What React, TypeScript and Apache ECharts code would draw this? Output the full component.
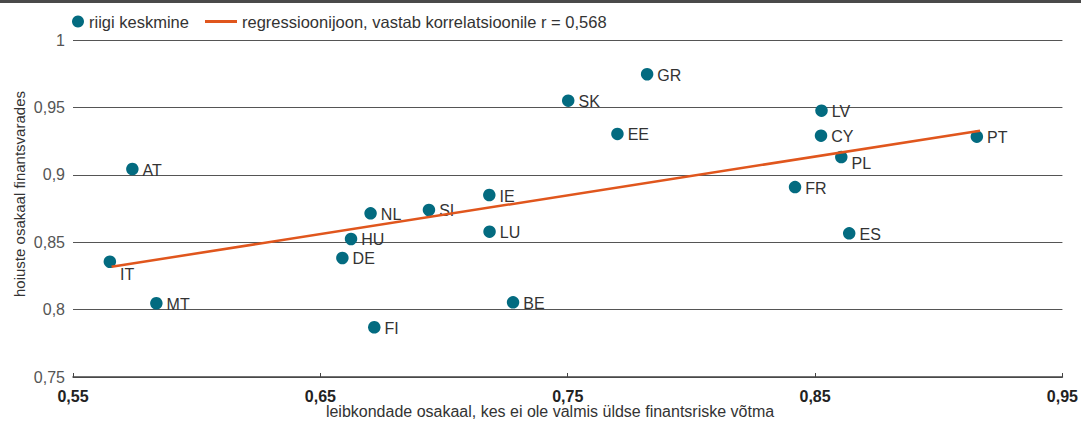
import React, { useEffect, useRef } from "react";
import * as echarts from "echarts";

const countries = ["IT", "AT", "MT", "DE", "HU", "NL", "FI", "SI", "IE", "LU", "BE", "SK", "EE", "GR", "FR", "LV", "CY", "PL", "ES", "PT"];
const xValues = [0.5649, 0.574, 0.5837, 0.6589, 0.6624, 0.6703, 0.6718, 0.6939, 0.7183, 0.7184, 0.7279, 0.7502, 0.7701, 0.7821, 0.8419, 0.8526, 0.8524, 0.8606, 0.8638, 0.9154];
const yValues = [0.8355, 0.9043, 0.8047, 0.8383, 0.8524, 0.8714, 0.7869, 0.8739, 0.885, 0.8578, 0.8054, 0.955, 0.9303, 0.9746, 0.8909, 0.9476, 0.929, 0.9132, 0.8566, 0.9283];
const regressionX = [0.5656, 0.9167];
const regressionY = [0.8318, 0.9327];

const scatterName = "riigi keskmine";
const lineName = "regressioonijoon, vastab korrelatsioonile r = 0,568";
const xAxisTitle = "leibkondade osakaal, kes ei ole valmis üldse finantsriske võtma";
const yAxisTitle = "hoiuste osakaal finantsvarades";

const FONT = "Liberation Sans, Arial, Helvetica, sans-serif";
const fmt = (v: number) => String(+Number(v).toFixed(2)).replace(".", ",");

export default function App() {
  const ref = useRef<HTMLDivElement>(null);
  useEffect(() => {
    document.body.style.margin = "0";
    const chart = echarts.init(ref.current!, null, { renderer: "svg" });
    const labelOffsets: Record<string, number[]> = { IT: [0, 13], PL: [0, 6] };
    chart.setOption({
      animation: false,
      backgroundColor: "#ffffff",
      textStyle: { fontFamily: FONT },
      graphic: [
        { type: "rect", left: 0, top: 0, shape: { width: 1081, height: 3 }, style: { fill: "#4a4a4a" } },
        {
          type: "text",
          x: 550,
          y: 411,
          style: { text: xAxisTitle, fontSize: 16, fill: "#333", fontFamily: FONT, align: "center", verticalAlign: "middle" },
        },
        {
          type: "text",
          x: 19,
          y: 194,
          rotation: Math.PI / 2,
          style: { text: yAxisTitle, fontSize: 15, fill: "#333", fontFamily: FONT, align: "center", verticalAlign: "middle" },
        },
      ],
      legend: [
        {
          data: [scatterName],
          left: 72,
          top: 13,
          padding: 0,
          itemWidth: 12,
          itemHeight: 12,
          textStyle: { fontSize: 16.5, color: "#333", fontFamily: FONT },
        },
        {
          data: [{ name: lineName, icon: "path://M0,0 L32,0 L32,3 L0,3 Z", itemStyle: { color: "#e0561d" } }],
          left: 205,
          top: 13,
          padding: 0,
          itemWidth: 32,
          itemHeight: 12,
          symbolKeepAspect: true,
          textStyle: { fontSize: 16.5, color: "#333", fontFamily: FONT },
        },
      ],
      grid: { left: 73, right: 15, top: 40, bottom: 44, containLabel: false },
      xAxis: {
        type: "value",
        min: 0.55,
        max: 0.95,
        interval: 0.1,
        axisLine: { show: true, lineStyle: { color: "#444", width: 1.5 } },
        axisTick: { show: true, inside: true, length: 4, lineStyle: { color: "#444" } },
        splitLine: { show: false },
        axisLabel: { formatter: fmt, fontSize: 16, fontWeight: "bold", color: "#222", margin: 11, fontFamily: FONT },
      },
      yAxis: {
        type: "value",
        min: 0.75,
        max: 1,
        interval: 0.05,
        axisLine: { show: false },
        axisTick: { show: false },
        splitLine: { show: true, lineStyle: { color: "#555", width: 1 } },
        axisLabel: { formatter: fmt, fontSize: 16, color: "#555", margin: 8, fontFamily: FONT },
      },
      series: [
        {
          name: scatterName,
          type: "scatter",
          symbol: "circle",
          symbolSize: 12.5,
          itemStyle: { color: "#036b80", opacity: 1 },
          data: countries.map((c, i) => ({
            name: c,
            value: [xValues[i], yValues[i]],
            label: { offset: labelOffsets[c] || [0, 1] },
          })),
          label: {
            show: true,
            position: "right",
            distance: 4,
            formatter: "{b}",
            fontSize: 16,
            color: "#333",
            fontFamily: FONT,
          },
          z: 3,
        },
        {
          name: lineName,
          type: "line",
          symbol: "none",
          lineStyle: { color: "#e0561d", width: 2.5 },
          itemStyle: { color: "#e0561d" },
          data: regressionX.map((x, i) => [x, regressionY[i]]),
          z: 4,
        },
      ],
    });
    return () => chart.dispose();
  }, []);
  return <div ref={ref} style={{ width: 1081, height: 421 }} />;
}
